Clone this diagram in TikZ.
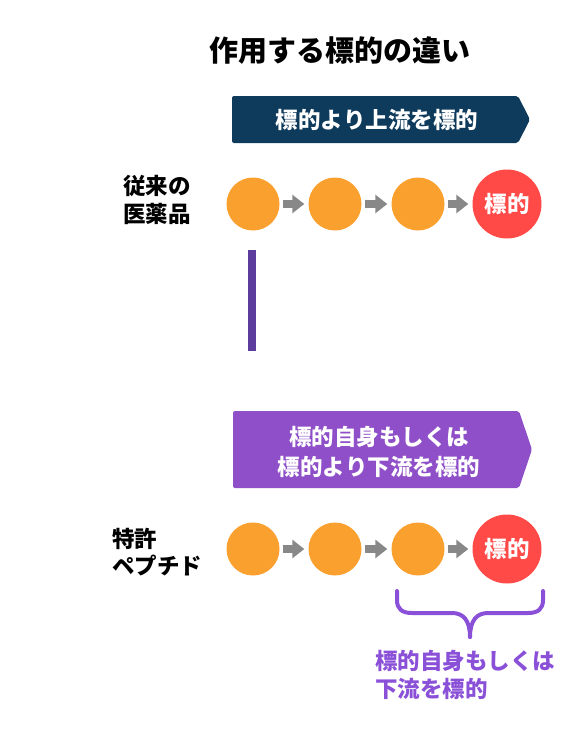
\documentclass[tikz,border=0pt]{standalone}
\usepackage{fontspec}
\setmainfont{Noto Sans CJK JP}
\usetikzlibrary{arrows.meta}
\definecolor{orng}{HTML}{FAA02E}
\definecolor{tgtred}{HTML}{FF4A48}
\definecolor{navy}{HTML}{0E3A5C}
\definecolor{bpurple}{HTML}{8E4FC8}
\definecolor{barpurple}{HTML}{5C3D9E}
\definecolor{brpurple}{HTML}{8A50D8}
\definecolor{agray}{HTML}{888888}
\tikzset{
  dot/.style={circle,fill=orng,minimum size=53pt,inner sep=0pt},
  tgt/.style={circle,fill=tgtred,minimum size=69pt,inner sep=0pt,text=white,font=\bfseries\fontsize{22.5}{24}\selectfont},
  flow/.style={draw=agray,line width=8pt,-{Triangle[length=12pt,width=18pt]},shorten <=3pt,shorten >=4pt},
  lbl/.style={font=\bfseries\fontsize{22.5}{27.5}\selectfont,align=left,anchor=west,inner sep=0pt},
  bantext/.style={text=white,font=\bfseries\fontsize{22.5}{30}\selectfont,align=center,inner sep=0pt}
}
\begin{document}
\begin{tikzpicture}[x=1pt,y=-1pt]
\useasboundingbox (0,0) rectangle (576,744);
% title
\node[font=\bfseries\fontsize{29}{32}\selectfont] (title) at (340,51) {作用する標的の違い};
% banner 1
\fill[navy,rounded corners=2pt] (232,96) -- (518,96) -- (530,119.5) -- (518,143) -- (232,143) -- cycle;
\node[bantext] (b1) at (377,120) {標的より上流を標的};
% row 1
\node[lbl] (l1) at (123,200) {従来の\\医薬品};
\node[dot] (c11) at (253,204) {};
\node[dot] (c12) at (335,204) {};
\node[dot] (c13) at (418,204) {};
\node[tgt] (c14) at (507,204) {標的};
\draw[flow] (c11) -- (c12);
\draw[flow] (c12) -- (c13);
\draw[flow] (c13) -- (c14);
% bar
\fill[barpurple] (248,250) rectangle (256,351);
% banner 2
\fill[bpurple,rounded corners=2pt] (233,411) -- (519,411) -- (532,449.5) -- (519,488) -- (233,488) -- cycle;
\node[bantext] (b2) at (379,452) {標的自身もしくは\\標的より下流を標的};
% row 2
\node[lbl] (l2) at (112,552) {特許\\ペプチド};
\node[dot] (c21) at (253,549) {};
\node[dot] (c22) at (335,549) {};
\node[dot] (c23) at (418,549) {};
\node[tgt] (c24) at (507,549) {標的};
\draw[flow] (c21) -- (c22);
\draw[flow] (c22) -- (c23);
\draw[flow] (c23) -- (c24);
% brace
\draw[brpurple,line width=4pt,line cap=round,line join=round]
  (397,591) -- (397,600) .. controls (397,609) and (402,613) .. (412,613) -- (452,613)
  .. controls (463,613) and (470,620) .. (470,637);
\draw[brpurple,line width=4pt,line cap=round,line join=round]
  (543,591) -- (543,600) .. controls (543,609) and (538,613) .. (528,613) -- (488,613)
  .. controls (477,613) and (470,620) .. (470,637);
\node[lbl,text=brpurple] (bt) at (375,675) {標的自身もしくは\\下流を標的};
\end{tikzpicture}
\end{document}
